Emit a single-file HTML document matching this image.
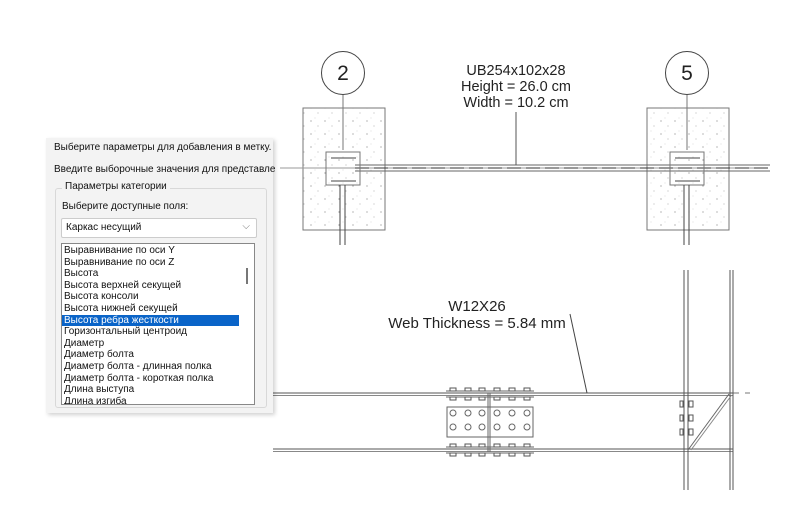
<!DOCTYPE html>
<html><head><meta charset="utf-8"><style>
body{margin:0;width:800px;height:508px;background:#fff;position:relative;overflow:hidden;font-family:"Liberation Sans","DejaVu Sans",sans-serif;}
svg{position:absolute;left:0;top:0}
.dlg{position:absolute;left:46px;top:138px;width:227px;height:275px;background:#f3f3f3;box-shadow:2px 2px 4px rgba(0,0,0,0.18);font-size:10px;color:#111;}
.t{position:absolute;left:8px;white-space:nowrap;}
.grp{position:absolute;left:9px;top:50px;width:210px;height:218px;border:1px solid #d8d8d8;border-radius:3px;}
.leg{position:absolute;left:16px;top:43px;background:#f3f3f3;padding:0 3px;}
.dd{position:absolute;left:15px;top:80px;width:194px;height:18px;background:#fff;border:1px solid #ccc;border-radius:2px;}
.lb{position:absolute;left:15px;top:105px;width:194px;height:162px;background:#fff;border:1px solid #888;overflow:hidden;padding-top:1px;box-sizing:border-box;}
.lb div{height:11.6px;line-height:11.6px;padding-left:2px;white-space:nowrap;}
.sel{background:#0a64c8;color:#fff;width:175px;}
</style></head><body>
<svg width="800" height="508" viewBox="0 0 800 508">
<defs><pattern id="dots" width="14" height="13" patternUnits="userSpaceOnUse">
<circle cx="3" cy="4" r="0.6" fill="#888"/><circle cx="10" cy="9" r="0.5" fill="#999"/><circle cx="7" cy="1" r="0.4" fill="#aaa"/></pattern></defs>
<g stroke="#777" fill="none" stroke-width="1">
<rect x="303" y="108" width="82" height="122" fill="url(#dots)"/>
<rect x="647" y="108" width="82" height="122" fill="url(#dots)"/>
<circle cx="343" cy="73" r="21.5" stroke="#444"/>
<circle cx="687" cy="73" r="21.5" stroke="#444"/>
<line x1="343" y1="95" x2="343" y2="150"/>
<line x1="687" y1="95" x2="687" y2="150"/>
<line x1="280" y1="168" x2="760" y2="168" stroke="#999"/>
<line x1="355" y1="165" x2="770" y2="165" stroke="#666"/>
<line x1="355" y1="171" x2="770" y2="171" stroke="#666"/>
<line x1="355" y1="168" x2="770" y2="168" stroke="#333" stroke-dasharray="14,5"/>
<rect x="326" y="152" width="34" height="33"/>
<rect x="670" y="152" width="34" height="33"/>
<line x1="331" y1="158" x2="356" y2="158" stroke="#444"/>
<line x1="675" y1="158" x2="700" y2="158" stroke="#444"/>
<line x1="331" y1="181" x2="356" y2="181" stroke="#444"/>
<line x1="675" y1="181" x2="700" y2="181" stroke="#444"/>
<line x1="340" y1="185" x2="340" y2="245" stroke="#444"/><line x1="345" y1="185" x2="345" y2="245" stroke="#444"/>
<line x1="684" y1="185" x2="684" y2="245" stroke="#444"/><line x1="689" y1="185" x2="689" y2="245" stroke="#444"/>
<line x1="516" y1="112" x2="516" y2="165" stroke="#555"/>
<line x1="273" y1="393" x2="733" y2="393" stroke="#555"/>
<line x1="273" y1="395.5" x2="733" y2="395.5" stroke="#888"/>
<line x1="273" y1="449" x2="733" y2="449" stroke="#555"/>
<line x1="273" y1="451.5" x2="733" y2="451.5" stroke="#888"/>
<line x1="733" y1="393" x2="750" y2="393" stroke="#777" stroke-dasharray="6,6"/>
<line x1="684" y1="270" x2="684" y2="490" stroke="#555"/><line x1="688" y1="270" x2="688" y2="490" stroke="#555"/>
<line x1="730" y1="270" x2="730" y2="490" stroke="#555"/><line x1="733" y1="270" x2="733" y2="490" stroke="#555"/>
<line x1="688" y1="450" x2="729" y2="394" stroke="#666"/><line x1="691" y1="450" x2="731" y2="396" stroke="#888"/>
<rect x="447" y="407" width="86" height="30" stroke="#666"/>
<line x1="488" y1="393" x2="488" y2="452" stroke="#666"/><line x1="490" y1="393" x2="490" y2="452" stroke="#666"/>
<line x1="446" y1="391" x2="534" y2="391" stroke="#666"/><line x1="446" y1="397" x2="534" y2="397" stroke="#666"/>
<line x1="446" y1="447" x2="534" y2="447" stroke="#666"/><line x1="446" y1="453" x2="534" y2="453" stroke="#666"/>
<g stroke="#666">
<circle cx="453" cy="413" r="3"/><circle cx="468" cy="413" r="3"/><circle cx="482" cy="413" r="3"/><circle cx="497" cy="413" r="3"/><circle cx="512" cy="413" r="3"/><circle cx="527" cy="413" r="3"/>
<circle cx="453" cy="427" r="3"/><circle cx="468" cy="427" r="3"/><circle cx="482" cy="427" r="3"/><circle cx="497" cy="427" r="3"/><circle cx="512" cy="427" r="3"/><circle cx="527" cy="427" r="3"/>
</g>
<g stroke="#555">
<rect x="450" y="388" width="6" height="3"/><rect x="465" y="388" width="6" height="3"/><rect x="479" y="388" width="6" height="3"/><rect x="494" y="388" width="6" height="3"/><rect x="509" y="388" width="6" height="3"/><rect x="524" y="388" width="6" height="3"/>
<rect x="450" y="397" width="6" height="3"/><rect x="465" y="397" width="6" height="3"/><rect x="479" y="397" width="6" height="3"/><rect x="494" y="397" width="6" height="3"/><rect x="509" y="397" width="6" height="3"/><rect x="524" y="397" width="6" height="3"/>
<rect x="450" y="444" width="6" height="3"/><rect x="465" y="444" width="6" height="3"/><rect x="479" y="444" width="6" height="3"/><rect x="494" y="444" width="6" height="3"/><rect x="509" y="444" width="6" height="3"/><rect x="524" y="444" width="6" height="3"/>
<rect x="450" y="453" width="6" height="3"/><rect x="465" y="453" width="6" height="3"/><rect x="479" y="453" width="6" height="3"/><rect x="494" y="453" width="6" height="3"/><rect x="509" y="453" width="6" height="3"/><rect x="524" y="453" width="6" height="3"/>
<rect x="680" y="401" width="3" height="6"/><rect x="689" y="401" width="4" height="6"/>
<rect x="680" y="415" width="3" height="6"/><rect x="689" y="415" width="4" height="6"/>
<rect x="680" y="429" width="3" height="6"/><rect x="689" y="429" width="4" height="6"/>
</g>
<line x1="570" y1="314" x2="587" y2="393" stroke="#444"/>
</g>
<g font-family="Liberation Sans, sans-serif" fill="#222">
<text x="343" y="80" font-size="21" text-anchor="middle">2</text>
<text x="687" y="80" font-size="21" text-anchor="middle">5</text>
<text x="516" y="75" font-size="14.5" text-anchor="middle">UB254x102x28</text>
<text x="516" y="91" font-size="14.5" text-anchor="middle">Height = 26.0 cm</text>
<text x="516" y="107" font-size="14.5" text-anchor="middle">Width = 10.2 cm</text>
<text x="477" y="311" font-size="15" text-anchor="middle">W12X26</text>
<text x="477" y="328" font-size="15" text-anchor="middle">Web Thickness = 5.84 mm</text>
</g>
</svg>
<div class="dlg">
<div class="t" style="top:4px">Выберите параметры для добавления в метку.</div>
<div class="t" style="top:26px">Введите выборочные значения для представле</div>
<div class="grp"></div>
<div class="leg">Параметры категории</div>
<div class="t" style="top:63px;left:16px">Выберите доступные поля:</div>
<div class="dd"><span style="position:absolute;left:4px;top:3px">Каркас несущий</span><span style="position:absolute;right:6px;top:2px;color:#777">⌵</span></div>
<div class="lb">
<div>Выравнивание по оси Y</div><div>Выравнивание по оси Z</div><div>Высота</div><div>Высота верхней секущей</div><div>Высота консоли</div><div>Высота нижней секущей</div><div class="sel">Высота ребра жесткости</div><div>Горизонтальный центроид</div><div>Диаметр</div><div>Диаметр болта</div><div>Диаметр болта - длинная полка</div><div>Диаметр болта - короткая полка</div><div>Длина выступа</div><div>Длина изгиба</div>
<span style="position:absolute;left:184px;top:24px;width:2px;height:16px;background:#777"></span>
</div>
</div>
</body></html>
